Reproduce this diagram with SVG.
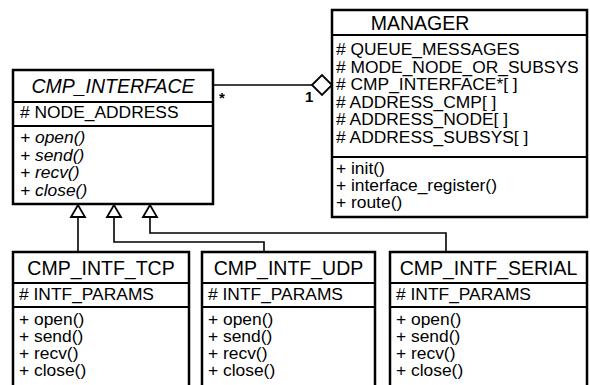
<svg xmlns="http://www.w3.org/2000/svg" width="590" height="385" viewBox="0 0 590 385">
<style>
.box{fill:#fff;stroke:#000;stroke-width:2.5}
.div{stroke:#000;stroke-width:2}
text{font-family:"Liberation Sans",Arial,sans-serif;fill:#000}
.t{font-size:19.5px;text-anchor:middle}
.b{font-size:17.4px}
.i{font-style:italic}
.ln{fill:none;stroke:#000;stroke-width:1.6}
.tri{fill:#fff;stroke:#000;stroke-width:1.8}
</style>
<rect width="590" height="385" fill="#fff"/>
<g id="connectors">
<path class="ln" d="M213,85 H312"/>
<polygon class="tri" points="312,85 322,75 332,85 322,95" stroke-width="2"/>
<text x="219" y="103" font-size="15" font-weight="bold">*</text>
<text x="305" y="102" font-size="15" font-weight="bold">1</text>
<path class="ln" d="M78,217 V252"/>
<path class="ln" d="M114,217 V242 H264 V252"/>
<path class="ln" d="M150,217 V233 H446 V252"/>
<polygon class="tri" points="78,205 71,217 85,217"/>
<polygon class="tri" points="114,205 107,217 121,217"/>
<polygon class="tri" points="150,205 143,217 157,217"/>
</g>
<g id="cmp_interface">
<rect class="box" x="13" y="70" width="200" height="134"/>
<line class="div" x1="13" y1="102" x2="213" y2="102"/>
<line class="div" x1="13" y1="126" x2="213" y2="126"/>
<text class="t i" x="113" y="93">CMP_INTERFACE</text>
<text class="b" x="20" y="118"># NODE_ADDRESS</text>
<text class="b i" x="20" y="143">+ open()</text>
<text class="b i" x="20" y="160.5">+ send()</text>
<text class="b i" x="20" y="178">+ recv()</text>
<text class="b i" x="20" y="195.5">+ close()</text>
</g>
<g id="manager">
<rect class="box" x="332" y="10" width="255" height="207"/>
<line class="div" x1="332" y1="35" x2="587" y2="35"/>
<line class="div" x1="332" y1="157" x2="587" y2="157"/>
<text class="t" x="420" y="30">MANAGER</text>
<text class="b" x="336" y="55"># QUEUE_MESSAGES</text>
<text class="b" x="336" y="72.5"># MODE_NODE_OR_SUBSYS</text>
<text class="b" x="336" y="90"># CMP_INTERFACE*[ ]</text>
<text class="b" x="336" y="107.5"># ADDRESS_CMP[ ]</text>
<text class="b" x="336" y="125"># ADDRESS_NODE[ ]</text>
<text class="b" x="336" y="142.5"># ADDRESS_SUBSYS[ ]</text>
<text class="b" x="336" y="174">+ init()</text>
<text class="b" x="336" y="191">+ interface_register()</text>
<text class="b" x="336" y="208">+ route()</text>
</g>
<g id="cmp_intf_tcp">
<rect class="box" x="13" y="252" width="176" height="145"/>
<line class="div" x1="13" y1="283" x2="189" y2="283"/>
<line class="div" x1="13" y1="307" x2="189" y2="307"/>
<text class="t" x="101" y="275">CMP_INTF_TCP</text>
<text class="b" x="19" y="300"># INTF_PARAMS</text>
<text class="b" x="19" y="325">+ open()</text>
<text class="b" x="19" y="342">+ send()</text>
<text class="b" x="19" y="359">+ recv()</text>
<text class="b" x="19" y="376">+ close()</text>
</g>
<g id="cmp_intf_udp">
<rect class="box" x="202" y="252" width="173" height="145"/>
<line class="div" x1="202" y1="283" x2="375" y2="283"/>
<line class="div" x1="202" y1="307" x2="375" y2="307"/>
<text class="t" x="288.5" y="275">CMP_INTF_UDP</text>
<text class="b" x="208" y="300"># INTF_PARAMS</text>
<text class="b" x="208" y="325">+ open()</text>
<text class="b" x="208" y="342">+ send()</text>
<text class="b" x="208" y="359">+ recv()</text>
<text class="b" x="208" y="376">+ close()</text>
</g>
<g id="cmp_intf_serial">
<rect class="box" x="390" y="252" width="197" height="145"/>
<line class="div" x1="390" y1="283" x2="587" y2="283"/>
<line class="div" x1="390" y1="307" x2="587" y2="307"/>
<text class="t" x="488.5" y="275">CMP_INTF_SERIAL</text>
<text class="b" x="396" y="300"># INTF_PARAMS</text>
<text class="b" x="396" y="325">+ open()</text>
<text class="b" x="396" y="342">+ send()</text>
<text class="b" x="396" y="359">+ recv()</text>
<text class="b" x="396" y="376">+ close()</text>
</g>
</svg>
